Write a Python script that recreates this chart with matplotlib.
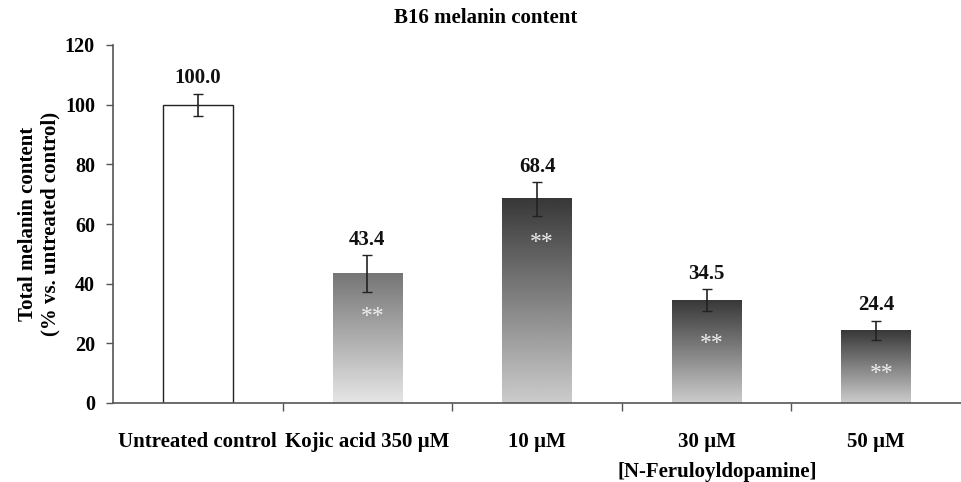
import matplotlib
matplotlib.use("Agg")
import matplotlib.pyplot as plt
import numpy as np

categories = ["Untreated control", "Kojic acid 350 \u00b5M", "10 \u00b5M", "30 \u00b5M", "50 \u00b5M"]
values = [100.0, 43.4, 68.4, 34.5, 24.4]
errors = [3.7, 6.2, 5.6, 3.7, 3.2]
value_labels = ["100.0", "43.4", "68.4", "34.5", "24.4"]
stars = ["", "**", "**", "**", "**"]
# gradient (top, bottom) gray levels per bar, None = plain white bar
gradients = [None, (0.46, 0.90), (0.22, 0.80), (0.22, 0.80), (0.22, 0.80)]

plt.rcParams["font.family"] = ["Liberation Serif", "DejaVu Serif"]
plt.rcParams["font.weight"] = "bold"

fig = plt.figure(figsize=(9.61, 4.82), dpi=100)
ax = fig.add_axes([113 / 961, 79 / 482, 1 - 113 / 961, (403 - 45) / 482])

x = np.arange(len(categories))
bars = ax.bar(x, values, width=0.41, color="white", edgecolor="none", zorder=1)

for bar, g in zip(bars, gradients):
    x0, w, h = bar.get_x(), bar.get_width(), bar.get_height()
    if g is None:
        bar.set_edgecolor("#222222")
        bar.set_linewidth(1.0)
        continue
    grad = np.linspace(g[0], g[1], 256).reshape(-1, 1)
    ax.imshow(grad, extent=(x0, x0 + w, 0, h), origin="upper", cmap="gray",
              vmin=0, vmax=1, aspect="auto", zorder=1)

ax.errorbar(x, values, yerr=errors, fmt="none", ecolor="#222222",
            elinewidth=1.2, capsize=3.5, capthick=1.0, zorder=3)

for xi, v, e, lab in zip(x, values, errors, value_labels):
    ax.text(xi, v + e + 1.8, lab, ha="center", va="bottom", fontsize=15,
            fontweight="bold", color="#111111")

for xi, v, s in zip(x, values, stars):
    if s:
        ax.text(xi + 0.03, v - 14.5, s, ha="center", va="center", fontsize=17,
                color="#eeeeee", fontweight="normal", zorder=4)

ax.set_xlim(-0.5, 4.5)
ax.set_ylim(0, 120)
ax.set_yticks(np.arange(0, 121, 20))
ax.set_xticks(x)
ax.set_xticklabels(categories, fontsize=15, fontweight="bold")
ax.set_xticks(np.arange(0.5, 4.0, 1.0), minor=True)
ax.tick_params(axis="x", which="major", length=0, pad=21)
ax.tick_params(axis="x", which="minor", length=6, width=1, color="#555555", direction="out")
ax.tick_params(axis="y", length=5, width=1, color="#555555", labelsize=14.5, pad=8)
for t in ax.get_yticklabels():
    t.set_fontweight("bold")

for side in ["top", "right"]:
    ax.spines[side].set_visible(False)
for side in ["left", "bottom"]:
    ax.spines[side].set_color("#555555")
    ax.spines[side].set_linewidth(1.2)

ax.set_ylabel("Total melanin content\n(% vs. untreated control)", fontsize=15,
              fontweight="bold", labelpad=3, linespacing=1.15)

fig.text(486 / 961, 1 - 18 / 482, "B16 melanin content", ha="center", va="center",
         fontsize=15, fontweight="bold")
ax.text(3.06, -23.0, "[N-Feruloyldopamine]", ha="center", va="center", fontsize=15,
        fontweight="bold", clip_on=False)

fig.savefig("out.png", dpi=100)
